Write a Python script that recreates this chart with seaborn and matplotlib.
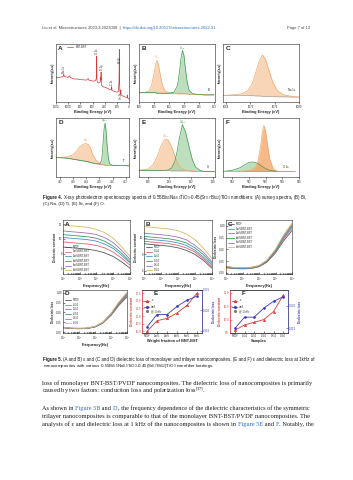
import numpy as np
import pandas as pd
import seaborn as sns
import matplotlib.pyplot as plt
from matplotlib.lines import Line2D

W, H = 353, 480

# ---------------- Figure 4: XPS data (normalised intensity) ----------------
survey_be = [1200, 1150, 1100, 1080, 1072, 1065, 1040, 1000, 985, 975, 965, 930, 900, 850, 800,
             700, 670, 660, 620, 580, 545, 535, 531, 527, 520, 500, 475, 466, 462, 459, 456, 450,
             430, 400, 350, 300, 290, 285, 280, 250, 200, 175, 165, 162, 159, 156, 150, 140,
             134, 130, 120, 100, 60, 30, 26, 20, 0]
survey_int = [0.44, 0.45, 0.46, 0.47, 0.51, 0.47, 0.46, 0.45, 0.47, 0.48, 0.45, 0.43, 0.42, 0.42, 0.41,
              0.40, 0.43, 0.40, 0.39, 0.38, 0.40, 0.45, 0.84, 0.42, 0.36, 0.35, 0.36, 0.45, 0.40, 0.55,
              0.38, 0.30, 0.28, 0.27, 0.25, 0.22, 0.23, 0.28, 0.21, 0.20, 0.18, 0.19, 0.35, 0.55, 0.96,
              0.40, 0.20, 0.15, 0.22, 0.14, 0.12, 0.11, 0.09, 0.08, 0.13, 0.07, 0.05]
survey_labels = ["Na 1s", "O 1s", "Ti 2p", "C 1s", "Bi 4f", "Sr 3d"]
survey_label_pos = [(1063, 0.53), (530, 0.88), (452, 0.58), (282, 0.31), (150, 0.72), (128, 0.06)]

bi_be = [168, 167, 166, 165.5, 165, 164.7, 164.4, 164.1, 163.8, 163.3, 162.8, 162, 161, 160.3, 159.9,
         159.6, 159.3, 159.0, 158.7, 158.4, 158.0, 157.4, 156.5, 155, 153]
bi_base = [0.17, 0.17, 0.17, 0.17, 0.17, 0.17, 0.16, 0.16, 0.16, 0.16, 0.16, 0.16, 0.16, 0.15, 0.15,
           0.15, 0.15, 0.15, 0.15, 0.15, 0.14, 0.14, 0.14, 0.13, 0.13]
bi_52 = [0.17, 0.17, 0.20, 0.30, 0.52, 0.68, 0.76, 0.68, 0.52, 0.30, 0.20, 0.17, 0.16, 0.15, 0.15,
         0.15, 0.15, 0.15, 0.15, 0.15, 0.14, 0.14, 0.14, 0.13, 0.13]
bi_72 = [0.17, 0.17, 0.17, 0.17, 0.17, 0.17, 0.16, 0.16, 0.16, 0.16, 0.16, 0.16, 0.18, 0.30, 0.55,
         0.80, 0.94, 0.85, 0.60, 0.38, 0.22, 0.16, 0.14, 0.13, 0.13]

na_be = [1067.5, 1069, 1070.5, 1071.5, 1072.3, 1073, 1073.5, 1074, 1074.5, 1075, 1075.7, 1076.5,
         1077.5, 1079, 1080]
na_base = [0.12, 0.12, 0.12, 0.12, 0.115, 0.11, 0.11, 0.105, 0.10, 0.10, 0.10, 0.095, 0.095, 0.09, 0.09]
na_1s = [0.12, 0.13, 0.15, 0.20, 0.33, 0.58, 0.76, 0.86, 0.78, 0.60, 0.36, 0.20, 0.13, 0.10, 0.09]

ti_be = [473.2, 470, 468, 467, 466, 465, 464.0, 463.3, 462.7, 462, 461, 460, 459.3, 458.9, 458.6,
         458.3, 458.0, 457.7, 457.3, 456.9, 456, 454, 451]
ti_base = [0.35, 0.34, 0.32, 0.31, 0.30, 0.29, 0.28, 0.27, 0.26, 0.25, 0.24, 0.23, 0.22, 0.22, 0.22,
           0.21, 0.21, 0.21, 0.21, 0.21, 0.21, 0.21, 0.20]
ti_12 = [0.35, 0.36, 0.40, 0.46, 0.54, 0.59, 0.60, 0.58, 0.52, 0.40, 0.30, 0.25, 0.23, 0.22, 0.22,
         0.21, 0.21, 0.21, 0.21, 0.21, 0.21, 0.21, 0.20]
ti_32 = [0.35, 0.34, 0.32, 0.31, 0.30, 0.29, 0.28, 0.27, 0.26, 0.25, 0.24, 0.23, 0.30, 0.60, 0.85,
         0.97, 0.85, 0.60, 0.35, 0.24, 0.21, 0.21, 0.20]

sr_be = [136.8, 136, 135.5, 135.1, 134.8, 134.5, 134.3, 134.1, 133.8, 133.5, 133.3, 133.1, 132.8,
         132.5, 132.2, 131.9, 131.6, 131.2, 130.8, 130.3, 129.8]
sr_base = [0.12, 0.12, 0.12, 0.12, 0.12, 0.12, 0.12, 0.12, 0.11, 0.11, 0.11, 0.11, 0.11,
           0.11, 0.11, 0.10, 0.10, 0.10, 0.10, 0.10, 0.10]
sr_32 = [0.12, 0.14, 0.22, 0.38, 0.55, 0.66, 0.68, 0.66, 0.55, 0.38, 0.28, 0.20, 0.14,
         0.12, 0.11, 0.11, 0.10, 0.10, 0.10, 0.10, 0.10]
sr_52 = [0.12, 0.12, 0.12, 0.12, 0.12, 0.12, 0.12, 0.13, 0.16, 0.28, 0.45, 0.68, 0.94,
         0.80, 0.55, 0.32, 0.18, 0.12, 0.10, 0.10, 0.10]

o_be = [535.1, 534, 533, 532.5, 532, 531.6, 531.2, 530.9, 530.6, 530.4, 530.2, 530.0, 529.8, 529.5,
        529.1, 528.5, 527.5, 526.5]
o_base = [0.10, 0.10, 0.10, 0.10, 0.10, 0.10, 0.10, 0.10, 0.10, 0.10, 0.10, 0.10, 0.10, 0.10,
          0.10, 0.10, 0.10, 0.10]
o_lat = [0.10, 0.10, 0.10, 0.11, 0.12, 0.14, 0.18, 0.30, 0.55, 0.80, 0.93, 0.82, 0.60, 0.32,
         0.15, 0.10, 0.10, 0.10]
o_ads = [0.10, 0.12, 0.17, 0.22, 0.26, 0.27, 0.26, 0.24, 0.21, 0.19, 0.17, 0.15, 0.14, 0.12,
         0.11, 0.10, 0.10, 0.10]

# ---------------- Figure 5: dielectric data ----------------
freq = [1e2, 3e2, 1e3, 3e3, 1e4, 3e4, 1e5, 3e5, 1e6]
mono_names = ["PVDF", "1wt%BNT-BST", "2wt%BNT-BST", "4wt%BNT-BST", "6wt%BNT-BST", "8wt%BNT-BST"]
tri_names = ["PVDF", "0-1-0", "0-2-0", "0-4-0", "0-6-0", "0-8-0"]
series_colors = ["#555555", "#e06070", "#4a90c8", "#3a9a6a", "#a070c0", "#d8b860"]

eps_mono = [
    [8.9, 8.8, 8.7, 8.6, 8.4, 8.1, 7.6, 6.9, 6.0],
    [9.6, 9.5, 9.4, 9.3, 9.1, 8.8, 8.2, 7.4, 6.4],
    [10.2, 10.1, 10.0, 9.9, 9.7, 9.3, 8.7, 7.8, 6.7],
    [10.6, 10.5, 10.4, 10.3, 10.1, 9.7, 9.0, 8.1, 6.9],
    [11.1, 11.0, 10.9, 10.8, 10.6, 10.2, 9.5, 8.5, 7.2],
    [11.9, 11.8, 11.7, 11.6, 11.3, 10.9, 10.1, 9.0, 7.6],
]
eps_tri = [
    [9.3, 9.2, 9.1, 9.0, 8.8, 8.5, 8.0, 7.3, 6.3],
    [9.6, 9.5, 9.4, 9.3, 9.1, 8.8, 8.3, 7.5, 6.5],
    [9.9, 9.8, 9.7, 9.6, 9.4, 9.1, 8.5, 7.7, 6.7],
    [10.2, 10.1, 10.0, 9.9, 9.7, 9.4, 8.8, 8.0, 6.9],
    [10.6, 10.5, 10.4, 10.3, 10.1, 9.8, 9.1, 8.3, 7.1],
    [11.4, 11.3, 11.2, 11.1, 10.9, 10.5, 9.8, 8.8, 7.5],
]
loss_mono = [
    [0.022, 0.018, 0.017, 0.018, 0.026, 0.045, 0.085, 0.135, 0.180],
    [0.024, 0.019, 0.018, 0.019, 0.027, 0.047, 0.089, 0.142, 0.190],
    [0.025, 0.020, 0.019, 0.020, 0.028, 0.049, 0.092, 0.147, 0.196],
    [0.026, 0.021, 0.020, 0.021, 0.029, 0.050, 0.094, 0.151, 0.201],
    [0.027, 0.022, 0.021, 0.022, 0.030, 0.052, 0.097, 0.155, 0.206],
    [0.028, 0.023, 0.022, 0.023, 0.031, 0.054, 0.100, 0.160, 0.212],
]
loss_tri = [
    [0.022, 0.018, 0.017, 0.018, 0.026, 0.045, 0.085, 0.135, 0.180],
    [0.023, 0.018, 0.017, 0.018, 0.026, 0.046, 0.087, 0.139, 0.186],
    [0.023, 0.019, 0.018, 0.019, 0.027, 0.047, 0.089, 0.143, 0.191],
    [0.024, 0.019, 0.018, 0.019, 0.027, 0.048, 0.091, 0.146, 0.195],
    [0.024, 0.020, 0.019, 0.020, 0.028, 0.049, 0.093, 0.149, 0.199],
    [0.025, 0.020, 0.019, 0.020, 0.028, 0.050, 0.095, 0.152, 0.203],
]
mono_ticks = ["PVDF", "1wt%", "2wt%", "4wt%", "6wt%", "8wt%"]
tri_ticks = ["PVDF", "0-1-0", "0-2-0", "0-4-0", "0-6-0", "0-8-0"]
eps_1k_mono = [10.0, 10.7, 10.85, 11.2, 11.7, 12.5]
tan_1k_mono = [0.016, 0.019, 0.019, 0.021, 0.0225, 0.0235]
eps_1k_tri = [9.6, 9.8, 9.9, 10.0, 10.3, 10.9]
tan_1k_tri = [0.015, 0.0175, 0.0175, 0.0195, 0.021, 0.022]

# ---------------- text ----------------
header_left = "Liu et al. Microstructures 2023;3:2023008  |  "
header_link = "https://dx.doi.org/10.20517/microstructures.2022.31"
header_right = "Page 7 of 13"
NF = r"0.55Bi$_{0.5}$Na$_{0.5}$TiO$_3$-0.45(Sr$_{0.7}$Bi$_{0.2}$)TiO$_3$"
cap4 = [[("Figure 4. ", "bold", "k"),
         ("X-ray photoelectron spectroscopy spectra of " + NF + " nanofibers: (A) survey spectra, (B) Bi,", "normal", "k")],
        [("(C) Na, (D) Ti, (E) Sr, and (F) O.", "normal", "k")]]
cap5 = [[("Figure 5. ", "bold", "k"),
         ("(A and B) ε and (C and D) dielectric loss of monolayer and trilayer nanocomposites. (E and F) ε and dielectric loss at 1kHz of", "normal", "k")],
        [("nanocomposites with various " + NF + " nanofiber loadings.", "normal", "k")]]
LINK = "#2a6ebb"
body = [[("loss of monolayer BNT-BST/PVDF nanocomposites. The dielectric loss of nanocomposites is primarily", "k")],
        [("caused by two factors: conduction loss and polarization loss$^{[37]}$.", "k")],
        [("As shown in ", "k"), ("Figure 5B", LINK), (" and ", "k"), ("D", LINK),
         (", the frequency dependence of the dielectric characteristics of the symmetric", "k")],
        [("trilayer nanocomposites is comparable to that of the monolayer BNT-BST/PVDF nanocomposites. The", "k")],
        [("analysis of ε and dielectric loss at 1 kHz of the nanocomposites is shown in ", "k"), ("Figure 5E", LINK),
         (" and ", "k"), ("F", LINK), (". Notably, the", "k")]]
body_full = [True, False, True, True, True]

ORANGE, ORANGE_F = "#f0a868", "#f7c8a0"
GREEN, GREEN_F = "#3c9a4c", "#a8d4a8"
RED, BLUE = "#d83a3a", "#3a3ab8"

sns.set_theme(style="ticks")
plt.rcParams["font.family"] = ["Liberation Sans", "DejaVu Sans"]
plt.rcParams["mathtext.default"] = "regular"
plt.rcParams["axes.linewidth"] = 0.4
plt.rcParams["xtick.major.width"] = 0.4
plt.rcParams["ytick.major.width"] = 0.4
plt.rcParams["xtick.major.size"] = 1.2
plt.rcParams["ytick.major.size"] = 1.2
plt.rcParams["xtick.minor.size"] = 0.7
plt.rcParams["xtick.major.pad"] = 0.8
plt.rcParams["ytick.major.pad"] = 0.8

fig = plt.figure(figsize=(W / 100, H / 100), dpi=100)
fig.patch.set_facecolor("white")
TK = 2.0   # tick label size
LB = 2.8   # axis label size
PL = 4.6   # panel letter size
SANS = ["Liberation Sans", "DejaVu Sans"]
SERIF = ["Liberation Serif", "DejaVu Serif"]


def px_axes(x0, y0, x1, y1):
    return fig.add_axes([x0 / W, 1 - y1 / H, (x1 - x0) / W, (y1 - y0) / H])


def letter(ax, s, x=0.03, y=0.97):
    ax.text(x, y, s, transform=ax.transAxes, fontsize=PL, weight="bold", va="top", ha="left")


def xps_axes(ax, xlim, ticks, name):
    ax.set_xlim(*xlim)
    ax.set_ylim(0, 1.06)
    ax.set_xticks(ticks)
    ax.set_yticks([])
    ax.tick_params(labelsize=TK, direction="out")
    ax.set_xlabel("Binding Energy (eV)", fontsize=LB, weight="bold", labelpad=0.8)
    ax.set_ylabel("Intensity(a.u)", fontsize=LB * 0.85, weight="bold", labelpad=1.2)
    letter(ax, name)


def peak(ax, x, base, y, line, fill):
    ax.fill_between(x, base, y, color=fill, alpha=0.75, lw=0)
    sns.lineplot(x=x, y=y, ax=ax, color=line, lw=0.5, sort=False)


def seg_text(x, y, parts, size, family, width=None):
    # draws coloured / bold pieces one after another; optionally scaled to fill a width
    r = fig.canvas.get_renderer()
    if width is not None:
        probe = []
        for s, weight, color in parts:
            probe.append(fig.text(0, 0, s, fontsize=size, weight=weight, family=family))
        natural = sum(t.get_window_extent(r).width for t in probe)
        for t in probe:
            t.remove()
        size = size * width / natural
    for s, weight, color in parts:
        t = fig.text(x / W, 1 - y / H, s, fontsize=size, weight=weight, color=color,
                     family=family, va="baseline", ha="left")
        x += t.get_window_extent(r).width


# header
seg_text(42, 29.5, [(header_left, "normal", "#444444"), (header_link, "normal", LINK)], 3.0, SANS)
fig.text(310 / W, 1 - 29.5 / H, header_right, fontsize=3.0, ha="right", va="baseline", color="#444444")

# ---------- Figure 4 ----------
cols4 = [(56, 129), (139, 215), (223, 299)]
rows4 = [(44, 102), (118, 177)]

ax = px_axes(cols4[0][0], rows4[0][0], cols4[0][1], rows4[0][1])
sns.lineplot(x=survey_be, y=survey_int, ax=ax, color=RED, lw=0.5, sort=False, label="BNT-BST")
for lab, (bx, by) in zip(survey_labels, survey_label_pos):
    ax.text(bx, by, lab, rotation=90, fontsize=1.9, ha="center", va="bottom")
xps_axes(ax, (1200, 0), [1200, 1000, 800, 600, 400, 200, 0], "A")
ax.legend(loc="upper left", bbox_to_anchor=(0.12, 1.02), fontsize=1.9, frameon=False,
          handlelength=2.5, borderpad=0.2)

ax = px_axes(cols4[1][0], rows4[0][0], cols4[1][1], rows4[0][1])
sns.lineplot(x=bi_be, y=bi_base, ax=ax, color="#999999", lw=0.4, sort=False)
peak(ax, bi_be, bi_base, bi_52, ORANGE, ORANGE_F)
peak(ax, bi_be, bi_base, bi_72, GREEN, GREEN_F)
ax.text(164.4, 0.8, r"4f$_{5/2}$", color=ORANGE, fontsize=1.9, ha="center")
ax.text(159.3, 0.97, r"4f$_{7/2}$", color=GREEN, fontsize=1.9, ha="center")
ax.text(154.0, 0.2, "Bi", fontsize=2.0, ha="center")
xps_axes(ax, (168, 152.8), [168, 165, 162, 159, 156, 153], "B")

ax = px_axes(cols4[2][0], rows4[0][0], cols4[2][1], rows4[0][1])
sns.lineplot(x=na_be, y=na_base, ax=ax, color="#999999", lw=0.4, sort=False)
peak(ax, na_be, na_base, na_1s, ORANGE, ORANGE_F)
ax.text(1078.7, 0.2, "Na 1s", fontsize=1.9, ha="center")
xps_axes(ax, (1067.5, 1080), [1068, 1072, 1076, 1080], "C")

ax = px_axes(cols4[0][0], rows4[1][0], cols4[0][1], rows4[1][1])
sns.lineplot(x=ti_be, y=ti_base, ax=ax, color="#999999", lw=0.4, sort=False)
peak(ax, ti_be, ti_base, ti_12, ORANGE, ORANGE_F)
peak(ax, ti_be, ti_base, ti_32, GREEN, GREEN_F)
ax.text(464.0, 0.64, r"2p$_{1/2}$", color=ORANGE, fontsize=1.9, ha="center")
ax.text(458.3, 1.0, r"2p$_{3/2}$", color=GREEN, fontsize=1.9, ha="center")
ax.text(452.5, 0.27, "Ti", fontsize=2.0, ha="center")
xps_axes(ax, (473.2, 451), [472, 468, 464, 460, 456, 452], "D")

ax = px_axes(cols4[1][0], rows4[1][0], cols4[1][1], rows4[1][1])
sns.lineplot(x=sr_be, y=sr_base, ax=ax, color="#999999", lw=0.4, sort=False)
peak(ax, sr_be, sr_base, sr_32, ORANGE, ORANGE_F)
peak(ax, sr_be, sr_base, sr_52, GREEN, GREEN_F)
ax.text(134.3, 0.72, r"3d$_{3/2}$", color=ORANGE, fontsize=1.9, ha="center")
ax.text(132.8, 0.97, r"3d$_{5/2}$", color=GREEN, fontsize=1.9, ha="center")
ax.text(130.4, 0.16, "Sr", fontsize=2.0, ha="center")
xps_axes(ax, (136.8, 129.8), [136, 134, 132, 130], "E")

ax = px_axes(cols4[2][0], rows4[1][0], cols4[2][1], rows4[1][1])
sns.lineplot(x=o_be, y=o_base, ax=ax, color="#999999", lw=0.4, sort=False)
peak(ax, o_be, o_base, o_ads, GREEN, GREEN_F)
peak(ax, o_be, o_base, o_lat, ORANGE, "#f8a060")
ax.text(527.6, 0.17, "O 1s", fontsize=1.9, ha="center")
xps_axes(ax, (535.1, 526.5), [534, 532, 530, 528, 526], "F")

seg_text(43, 199, cap4[0], 2.95, SANS, width=267)
seg_text(43, 205.3, cap4[1], 3.2, SANS)

# ---------- Figure 5 ----------
cols5a = [(63, 130), (144, 212), (226, 292)]
cols5b = [(63, 127), (142, 202), (230, 288)]
row5a, row5b = (220, 274), (290, 333)


def freq_panel(ax, data, names, ylabel, ylim, yticks, fmt, name, legend_loc):
    df = pd.DataFrame({"freq": freq * len(names),
                       "val": [v for s in data for v in s],
                       "sample": [n for n in names for _ in freq]})
    sns.lineplot(data=df, x="freq", y="val", hue="sample", palette=series_colors,
                 ax=ax, lw=0.6)
    ax.set_xscale("log")
    ax.set_xlim(1e2, 1e6)
    ax.set_ylim(*ylim)
    ax.set_yticks(yticks)
    ax.set_yticklabels([fmt.format(t) for t in yticks])
    ax.tick_params(labelsize=TK, direction="in", which="both")
    ax.set_xlabel("Frequency(Hz)", fontsize=LB, weight="bold", labelpad=0.8)
    ax.set_ylabel(ylabel, fontsize=LB * 0.85, weight="bold", labelpad=1.0)
    ax.legend(loc=legend_loc, fontsize=1.8, frameon=False, handlelength=2.2,
              labelspacing=0.25, borderpad=0.3)
    letter(ax, name)


ax = px_axes(cols5a[0][0], row5a[0], cols5a[0][1], row5a[1])
freq_panel(ax, eps_mono, mono_names, "Dielectric constant", (5.2, 12.6), [6, 8, 10, 12], "{:g}", "A", "lower left")
ax = px_axes(cols5a[1][0], row5a[0], cols5a[1][1], row5a[1])
freq_panel(ax, eps_tri, tri_names, "Dielectric constant", (5.6, 12.2), [6, 8, 10], "{:g}", "B", "lower left")
ax = px_axes(cols5a[2][0], row5a[0], cols5a[2][1], row5a[1])
freq_panel(ax, loss_mono, mono_names, "Dielectric loss", (-0.005, 0.225), [0.0, 0.05, 0.10, 0.15, 0.20], "{:.2f}", "C", "upper left")
ax = px_axes(cols5b[0][0], row5b[0], cols5b[0][1], row5b[1])
freq_panel(ax, loss_tri, tri_names, "Dielectric loss", (-0.005, 0.215), [0.0, 0.05, 0.10, 0.15, 0.20], "{:.2f}", "D", "center left")


def khz_panel(ax, ticks, eps, tan, xlabel, eps_lim, eps_ticks, tan_lim, tan_ticks, name):
    sns.pointplot(x=ticks, y=eps, ax=ax, color=RED, markers="^", markersize=1.6, linewidth=0.6)
    ax.set_ylim(*eps_lim)
    ax.set_yticks(eps_ticks)
    ax.set_yticklabels(["{:.1f}".format(t) for t in eps_ticks])
    ax.tick_params(axis="y", colors=RED, labelsize=TK, direction="in")
    ax.tick_params(axis="x", labelsize=TK * 0.9, direction="in")
    ax.set_ylabel("Dielectric constant", fontsize=LB * 0.85, weight="bold", color=RED, labelpad=1.0)
    ax.set_xlabel(xlabel, fontsize=LB, weight="bold", labelpad=0.8)
    ax.spines["left"].set_color(RED)
    ax2 = ax.twinx()
    sns.pointplot(x=ticks, y=tan, ax=ax2, color=BLUE, markers="o", markersize=1.4, linewidth=0.6)
    ax2.set_ylim(*tan_lim)
    ax2.set_yticks(tan_ticks)
    ax2.set_yticklabels(["{:.3f}".format(t) for t in tan_ticks])
    ax2.tick_params(axis="y", colors=BLUE, labelsize=TK, direction="in")
    ax2.set_ylabel("Dielectric loss", fontsize=LB * 0.85, weight="bold", color=BLUE, labelpad=1.0)
    ax2.spines["right"].set_color(BLUE)
    ax2.spines["left"].set_color(RED)
    handles = [Line2D([], [], color=RED, marker="^", ms=1.4, lw=0.6),
               Line2D([], [], color=BLUE, marker="o", ms=1.2, lw=0.6),
               Line2D([], [], color="#777777", marker="o", ms=1.2, lw=0)]
    ax2.legend(handles, [r"ε$_r$", "tanδ", "@ 1 kHz"], loc="upper left", bbox_to_anchor=(0.0, 0.88),
               fontsize=1.8, frameon=False, handlelength=2.0, labelspacing=0.25)
    letter(ax, name, x=0.2)


ax = px_axes(cols5b[1][0], row5b[0], cols5b[1][1], row5b[1])
khz_panel(ax, mono_ticks, eps_1k_mono, tan_1k_mono, "Weight fraction of BNT-BST",
          (9.9, 12.7), [10.0, 10.5, 11.0, 11.5, 12.0, 12.5], (0.0145, 0.0250), [0.015, 0.020, 0.025], "E")
ax = px_axes(cols5b[2][0], row5b[0], cols5b[2][1], row5b[1])
khz_panel(ax, tri_ticks, eps_1k_tri, tan_1k_tri, "Samples",
          (9.5, 11.1), [9.5, 10.0, 10.5, 11.0], (0.0140, 0.0235), [0.015, 0.020], "F")

seg_text(43, 361, cap5[0], 2.95, SANS, width=267)
seg_text(43, 367.3, cap5[1], 3.2, SANS)

# body text
body_y = [385, 393, 410, 418, 426]
for yb, line, full in zip(body_y, body, body_full):
    parts = [(s, "normal", c) for s, c in line]
    seg_text(42, yb, parts, 4.6, SERIF, width=269 if full else None)

fig.savefig("out.png", dpi=100, facecolor="white")
